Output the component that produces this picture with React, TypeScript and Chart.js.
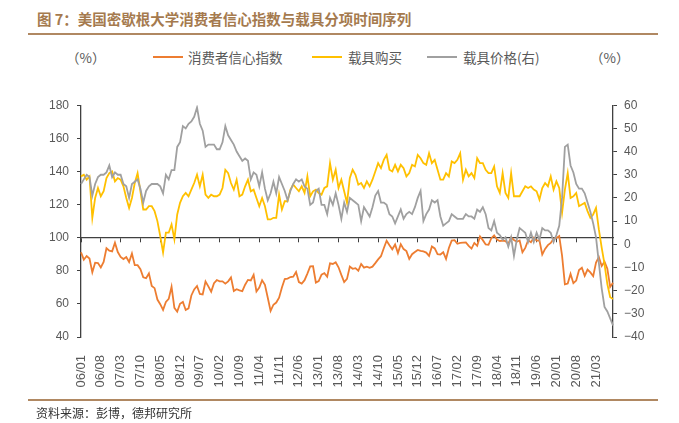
import { useEffect, useRef } from 'react';
import Chart from 'chart.js/auto';

// monthly categories 2006/01 .. 2021/09
const MONTHS: string[] = [];
for (let y = 2006; y <= 2021; y++) {
  for (let m = 1; m <= 12; m++) {
    if (y === 2021 && m > 9) break;
    MONTHS.push(`${String(y % 100).padStart(2, '0')}/${String(m).padStart(2, '0')}`);
  }
}

const TICK_LABELS = [
  '06/01', '06/08', '07/03', '07/10', '08/05', '08/12', '09/07', '10/02', '10/09',
  '11/04', '11/11', '12/06', '13/01', '13/08', '14/03', '14/10', '15/05', '15/12',
  '16/07', '17/02', '17/09', '18/04', '18/11', '19/06', '20/01', '20/08', '21/03',
];

// 消费者信心指数 (left axis)
const CONSUMER_SENTIMENT = [
  91.2, 86.7, 88.9, 87.4, 79.1, 84.9, 84.7, 82.0, 85.4, 93.6, 92.1, 91.7,
  96.9, 91.3, 88.4, 87.1, 88.3, 85.3, 90.4, 83.4, 83.4, 80.9, 76.1, 75.5,
  78.4, 70.8, 69.5, 62.6, 59.8, 56.4, 61.2, 63.0, 70.3, 57.6, 55.3, 60.1,
  61.2, 56.3, 57.3, 65.1, 68.7, 70.8, 66.0, 65.7, 73.5, 70.6, 67.4, 72.5,
  74.4, 73.6, 73.6, 72.2, 73.6, 76.0, 67.8, 68.9, 68.2, 67.7, 71.6, 74.5,
  74.2, 77.5, 67.5, 69.8, 74.3, 71.5, 63.7, 55.8, 59.5, 60.8, 63.7, 69.9,
  75.0, 75.3, 76.2, 76.4, 79.3, 73.2, 72.3, 74.3, 78.3, 82.6, 82.7, 72.9,
  73.8, 77.6, 78.6, 76.4, 84.5, 84.1, 85.1, 82.1, 77.5, 73.2, 75.1, 82.5,
  81.2, 81.6, 80.0, 84.1, 81.9, 82.5, 81.8, 82.5, 84.6, 86.9, 88.8, 93.6,
  98.1, 95.4, 93.0, 95.9, 90.7, 96.1, 93.1, 91.9, 87.2, 90.0, 91.3, 92.6,
  92.0, 91.7, 91.0, 89.0, 94.7, 93.5, 90.0, 89.8, 91.2, 87.2, 93.8, 98.2,
  98.5, 96.3, 96.9, 97.0, 97.1, 95.0, 93.4, 96.8, 95.1, 100.7, 98.5, 95.9,
  95.7, 99.7, 101.4, 98.8, 98.0, 98.2, 97.9, 96.2, 100.1, 98.6, 97.5, 98.3,
  91.2, 93.8, 98.4, 97.2, 100.0, 98.2, 98.4, 89.8, 93.2, 95.5, 96.8, 99.3,
  99.8, 101.0, 89.1, 71.8, 72.3, 78.1, 72.5, 74.1, 80.4, 81.8, 76.9, 80.7,
  79.0, 76.8, 84.9, 88.3, 82.9, 85.5, 81.2, 70.3, 72.8,
];

// 载具购买 (left axis)
const VEHICLE_BUYING = [
  137, 138, 135, 137, 112, 124, 130, 125, 128, 136, 139, 140,
  134, 136, 135, 131, 124, 118, 124, 133, 139, 128, 117, 117,
  119, 119, 116, 110, 101, 91, 103, 103, 108, 99, 114, 121,
  125, 127, 125, 129, 133, 138, 131, 138, 126, 124, 126, 125,
  125, 126, 130, 141, 139, 133, 129, 135, 125, 126, 131, 135,
  128, 129, 124, 119, 124, 119, 111, 111, 112, 112, 126, 117,
  122, 122, 129, 132, 130, 128, 131, 127, 137, 125, 128, 129,
  127, 126, 130, 131, 145, 135, 141, 130, 135, 128, 121, 136,
  141, 138, 132, 133, 130, 134, 131, 135, 140, 145, 142, 147,
  150, 141, 140, 144, 140, 144, 142, 137, 139, 144, 143, 150,
  148, 145, 144, 151, 145, 147, 141, 135, 135, 139, 137, 146,
  145, 147, 151, 135, 141, 137, 139, 136, 148, 145, 145, 141,
  139, 139, 143, 131, 127, 139, 127, 124, 139, 125, 125, 125,
  128, 131, 130, 131, 129, 128, 123, 130, 133, 131, 137, 129,
  134, 130, 115, 129, 139, 124, 125, 127, 119, 120, 121, 116,
  112, 114, 118, 105, 94, 84, 72, 64, 63,
];

// 载具价格 (right axis)
const VEHICLE_PRICE = [
  26, 28, 30, 29, 21, 26, 29, 30, 30, 31, 34, 29,
  31, 30, 30, 26, 25, 20, 26, 27, 28, 24, 18, 23,
  25, 26, 26, 26, 25, 22, 30, 28, 32, 32, 42, 44,
  51, 50, 52, 53, 55, 59, 52, 49, 42, 43, 43, 43,
  41, 41, 44, 51, 47, 45, 43, 40, 38, 36, 37, 36,
  28, 31, 30, 25, 31, 24, 19, 22, 27, 22, 29, 26,
  23, 19, 23, 26, 28, 27, 28, 25, 24, 17, 18, 23,
  24, 17, 17, 13, 20, 17, 22, 17, 11, 18, 14, 20,
  19, 18, 17, 10, 16, 14, 12, 16, 21, 23, 18, 18,
  17, 13, 12, 9, 12, 15, 11, 13, 14, 13, 16, 20,
  23, 10, 13, 15, 19, 18, 19, 12, 8, 9, 10, 13,
  12, 11, 11, 11, 13, 12, 12, 11, 15, 14, 16, 13,
  7, 6, 10, 5, 4, 2, 3, -1, 3, -5, 2, 7,
  6, 5, 1, 5, 1, 5, 2, 7, 6, 6, 5, 1,
  4, 8, 20, 42, 43, 34, 31, 26, 24, 24, 22, 18,
  14, 9, 3, -8, -19, -27, -29, -32, -35,
];

const ORANGE = '#ED7D31';
const YELLOW = '#FFC000';
const GRAY = '#A0A0A0';
const AXIS = '#404040';
const TEXT = '#595959';
const BROWN = '#A57A4E';
const CJK = '"Noto Sans CJK SC", sans-serif';

export default function App() {
  const canvasRef = useRef<HTMLCanvasElement>(null);
  const chartRef = useRef<Chart | null>(null);

  useEffect(() => {
    if (!canvasRef.current) return;
    if (chartRef.current) chartRef.current.destroy();

    const tickFont = { family: '"Liberation Sans", Arial, sans-serif', size: 12 };

    chartRef.current = new Chart(canvasRef.current, {
      type: 'line',
      data: {
        labels: MONTHS,
        datasets: [
          {
            label: '消费者信心指数',
            data: CONSUMER_SENTIMENT,
            borderColor: ORANGE,
            yAxisID: 'y',
            order: 3,
          },
          {
            label: '载具购买',
            data: VEHICLE_BUYING,
            borderColor: YELLOW,
            yAxisID: 'y',
            order: 2,
          },
          {
            label: '载具价格(右)',
            data: VEHICLE_PRICE,
            borderColor: GRAY,
            yAxisID: 'y1',
            order: 1,
          },
        ],
      },
      options: {
        animation: false,
        responsive: true,
        maintainAspectRatio: false,
        layout: { padding: { top: 14, left: 0, right: 0, bottom: 0 } },
        elements: {
          point: { radius: 0 },
          line: { borderWidth: 1.8, tension: 0 },
        },
        plugins: {
          legend: { display: false },
          tooltip: { enabled: false },
        },
        scales: {
          x: {
            type: 'category',
            position: 'bottom',
            offset: false,
            grid: { display: false },
            border: { display: false },
            ticks: {
              autoSkip: false,
              minRotation: 90,
              maxRotation: 90,
              padding: 10,
              color: TEXT,
              font: { ...tickFont, size: 13 },
              callback: (_v, i) => (TICK_LABELS.includes(MONTHS[i]) ? MONTHS[i] : ''),
            },
            afterFit: (s) => {
              s.height = 63;
            },
          },
          x2: {
            type: 'category',
            position: { y: 100 },
            offset: false,
            ticks: { display: false },
            grid: {
              drawOnChartArea: false,
              tickLength: 4,
              color: (ctx) => (TICK_LABELS.includes(MONTHS[ctx.index]) ? AXIS : 'rgba(0,0,0,0)'),
            },
            border: { color: AXIS, width: 1.3 },
          },
          y: {
            position: 'left',
            min: 40,
            max: 180,
            ticks: { stepSize: 20, color: TEXT, font: tickFont, padding: 8 },
            grid: { drawOnChartArea: false, tickLength: 4, color: AXIS },
            border: { color: AXIS, width: 1.3 },
            afterFit: (s) => {
              s.width = 81;
            },
          },
          y1: {
            position: 'right',
            min: -40,
            max: 60,
            ticks: {
              stepSize: 10,
              color: TEXT,
              font: tickFont,
              padding: 7,
              callback: (v) => String(v).replace('-', '−'),
            },
            grid: { drawOnChartArea: false, tickLength: 4, color: AXIS },
            border: { color: AXIS, width: 1.3 },
            afterFit: (s) => {
              s.width = 66;
            },
          },
        },
      },
    });

    return () => {
      if (chartRef.current) {
        chartRef.current.destroy();
        chartRef.current = null;
      }
    };
  }, []);

  const legendText: React.CSSProperties = {
    position: 'absolute',
    top: 48,
    fontFamily: CJK,
    fontSize: 13.5,
    color: TEXT,
    lineHeight: '18px',
    whiteSpace: 'nowrap',
  };
  const swatch = (left: number, color: string): React.CSSProperties => ({
    position: 'absolute',
    left,
    top: 56,
    width: 30,
    height: 2,
    background: color,
  });

  return (
    <div
      style={{
        position: 'fixed',
        left: 0,
        top: 0,
        width: 679,
        height: 423,
        background: '#fff',
        overflow: 'hidden',
      }}
    >
      <div
        style={{
          position: 'absolute',
          left: 37,
          top: 9,
          fontFamily: CJK,
          fontWeight: 700,
          fontSize: 14.5,
          color: BROWN,
          lineHeight: '20px',
          whiteSpace: 'nowrap',
        }}
      >
        图 7：美国密歇根大学消费者信心指数与载具分项时间序列
      </div>
      <div style={{ position: 'absolute', left: 28, top: 33, width: 630, height: 2, background: '#B08862' }} />

      <div style={{ ...legendText, left: 66 }}>（%）</div>
      <div style={swatch(153, ORANGE)} />
      <div style={{ ...legendText, left: 188 }}>消费者信心指数</div>
      <div style={swatch(312, YELLOW)} />
      <div style={{ ...legendText, left: 348 }}>载具购买</div>
      <div style={swatch(427, GRAY)} />
      <div style={{ ...legendText, left: 463 }}>载具价格(右)</div>
      <div style={{ ...legendText, left: 590 }}>（%）</div>

      <div style={{ position: 'absolute', left: 0, top: 90, width: 679, height: 310 }}>
        <canvas ref={canvasRef} />
      </div>

      <div style={{ position: 'absolute', left: 28, top: 399, width: 630, height: 2, background: '#B08862' }} />
      <div
        style={{
          position: 'absolute',
          left: 36,
          top: 405,
          fontFamily: CJK,
          fontSize: 12,
          color: '#333',
          lineHeight: '16px',
          whiteSpace: 'nowrap',
        }}
      >
        资料来源：彭博，德邦研究所
      </div>
    </div>
  );
}
